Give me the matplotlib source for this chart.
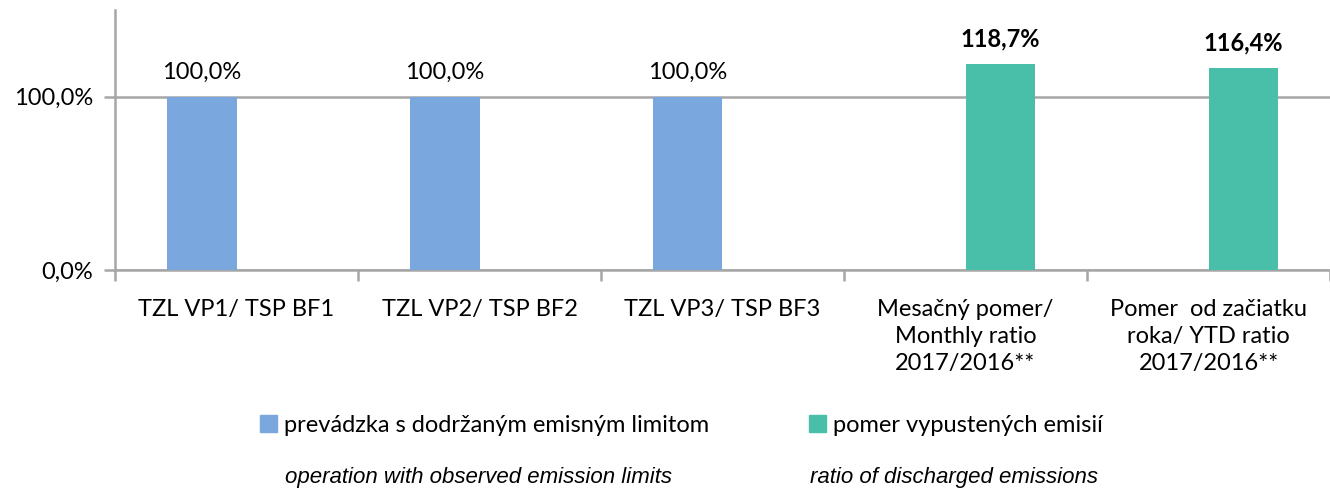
import numpy as np
import matplotlib
matplotlib.use('Agg')
import matplotlib.pyplot as plt
from matplotlib.patches import Patch

# data
categories = ['TZL VP1/ TSP BF1', 'TZL VP2/ TSP BF2', 'TZL VP3/ TSP BF3',
              'Mesačný pomer/\nMonthly ratio\n2017/2016**',
              'Pomer  od začiatku\nroka/ YTD ratio\n2017/2016**']
compliant = [100.0, 100.0, 100.0, np.nan, np.nan]
ratio = [np.nan, np.nan, np.nan, 118.7, 116.4]
series_names = ['prevádzka s dodržaným emisným limitom', 'pomer vypustených emisií']
series_notes = ['operation with observed emission limits', 'ratio of discharged emissions']
y_ticks = [0, 100]

BLUE = '#7AA7DE'
GREEN = '#49BEA9'
GRID = '#A6A6A6'
FS = 17

plt.rcParams['font.family'] = ['Lato', 'DejaVu Sans']


def pct(v):
    return f'{v:.1f}%'.replace('.', ',')


fig = plt.figure(figsize=(13.3, 4.92), dpi=100)
ax = fig.add_axes([115 / 1330, 222 / 492, 1215 / 1330, 260 / 492])

x = np.arange(len(categories))
w = 0.285
b1 = ax.bar(x - w / 2, compliant, w, color=BLUE, zorder=3)
b2 = ax.bar(x + w / 2, ratio, w, color=GREEN, zorder=3)

for bars, vals, weight in [(b1, compliant, 'normal'), (b2, ratio, 'bold')]:
    for rect, v in zip(bars, vals):
        if np.isnan(v):
            continue
        ax.annotate(pct(v), (rect.get_x() + rect.get_width() / 2, v),
                    xytext=(0, 10), textcoords='offset points',
                    ha='center', va='bottom', fontsize=FS, fontweight=weight,
                    color='black')

ax.set_xlim(-0.5, len(categories) - 0.5)
ax.set_ylim(0, 150)
ax.set_yticks(y_ticks)
ax.set_yticklabels([pct(v) for v in y_ticks], fontsize=FS)
ax.yaxis.grid(True, color=GRID, lw=1.8, zorder=0)

ax.set_xticks(x)
ax.set_xticklabels(categories, fontsize=FS, linespacing=1.35, va='top')
ax.set_xticks(np.arange(len(categories) + 1) - 0.5, minor=True)
ax.tick_params(axis='x', which='major', length=0, pad=21)
ax.tick_params(axis='x', which='minor', length=8, width=1.8, color=GRID)
ax.tick_params(axis='y', length=8, width=1.8, color=GRID, pad=8)

for s in ['top', 'right']:
    ax.spines[s].set_visible(False)
for s in ['left', 'bottom']:
    ax.spines[s].set_color(GRID)
    ax.spines[s].set_linewidth(1.8)

legend_x = [260 / 1330, 809 / 1330]
for name, color, lx in zip(series_names, [BLUE, GREEN], legend_x):
    fig.legend([Patch(color=color)], [name], loc='center left',
               bbox_to_anchor=(lx, 1 - 425 / 492), frameon=False, fontsize=FS,
               handlelength=0.7, handleheight=0.7, handletextpad=0.3,
               borderpad=0, borderaxespad=0)

for note, lx in zip(series_notes, [285 / 1330, 810 / 1330]):
    fig.text(lx, 1 - 478 / 492, note, fontsize=16, style='italic',
             family='Liberation Sans', ha='left', va='center')

fig.savefig('out.png', dpi=100)
